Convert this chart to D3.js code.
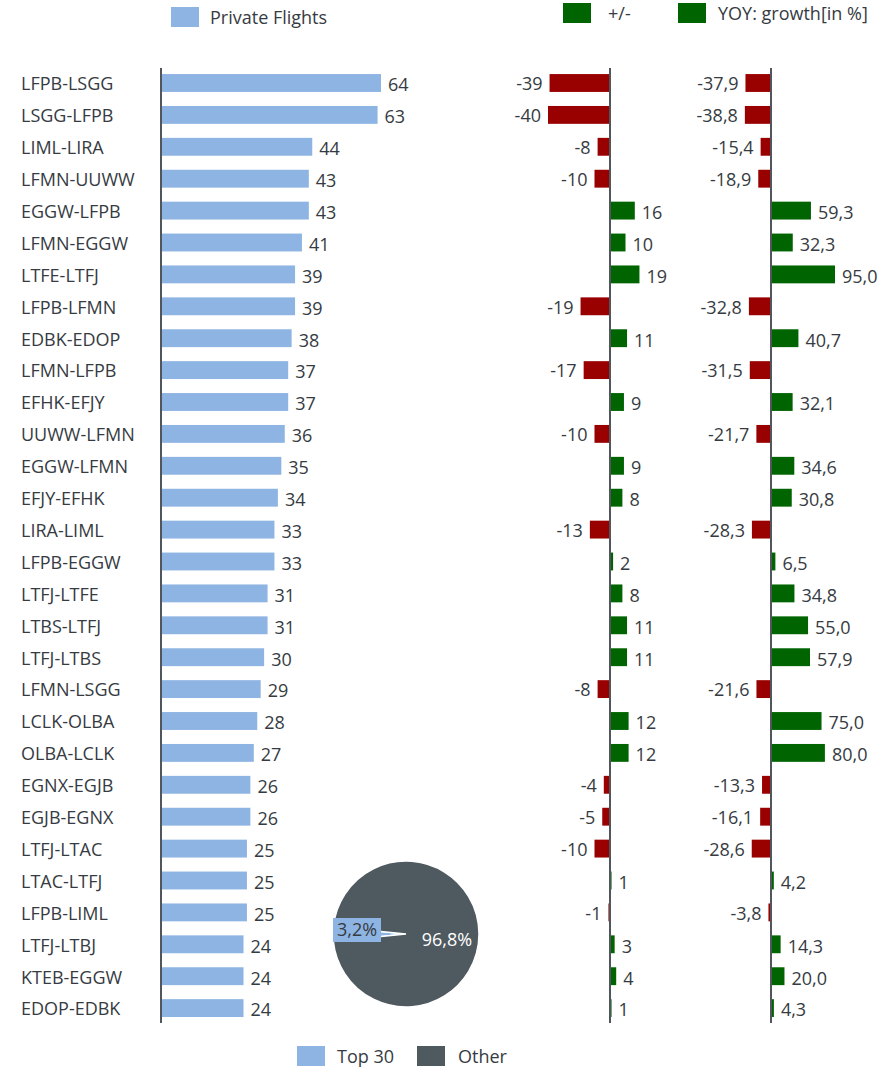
<!DOCTYPE html>
<html>
<head>
<meta charset="utf-8">
<script src="https://cdn.jsdelivr.net/npm/d3@7"></script>
<style>
  body{margin:0;background:#fff;}
  svg text{font-family:"Open Sans",sans-serif;fill:#363b42;}
</style>
</head>
<body>
<svg id="chart" width="893" height="1069"></svg>
<script>
// ── data ──
const routes=["LFPB-LSGG","LSGG-LFPB","LIML-LIRA","LFMN-UUWW","EGGW-LFPB","LFMN-EGGW","LTFE-LTFJ","LFPB-LFMN","EDBK-EDOP","LFMN-LFPB",
  "EFHK-EFJY","UUWW-LFMN","EGGW-LFMN","EFJY-EFHK","LIRA-LIML","LFPB-EGGW","LTFJ-LTFE","LTBS-LTFJ","LTFJ-LTBS","LFMN-LSGG",
  "LCLK-OLBA","OLBA-LCLK","EGNX-EGJB","EGJB-EGNX","LTFJ-LTAC","LTAC-LTFJ","LFPB-LIML","LTFJ-LTBJ","KTEB-EGGW","EDOP-EDBK"];
const flights=[64,63,44,43,43,41,39,39,38,37,37,36,35,34,33,33,31,31,30,29,28,27,26,26,25,25,25,24,24,24];
const diff=[-39,-40,-8,-10,16,10,19,-19,11,-17,9,-10,9,8,-13,2,8,11,11,-8,12,12,-4,-5,-10,1,-1,3,4,1];
const yoy=[-37.9,-38.8,-15.4,-18.9,59.3,32.3,95.0,-32.8,40.7,-31.5,32.1,-21.7,34.6,30.8,-28.3,6.5,34.8,55.0,57.9,-21.6,
  75.0,80.0,-13.3,-16.1,-28.6,4.2,-3.8,14.3,20.0,4.3];
const shareLabels=["Top 30","Other"];
const shareVals=[3.2,96.8];

const BLUE="#8db4e2",GREEN="#006400",RED="#990000",PIE_DARK="#4f5960",AXIS="#50565c";
const FS=18;
const fmt=v=>v.toFixed(1).replace(".",",");

const svg=d3.select("#chart");
const y=d3.scaleBand().domain(routes).range([67.05,1024.05]).paddingInner(0.44).paddingOuter(0.22);
const bw=y.bandwidth();

// ── main bars ──
const x0=d3.scaleLinear().domain([0,64]).range([161,381]);
svg.append("g").selectAll("text").data(routes).join("text")
  .attr("x",21).attr("y",d=>y(d)+bw/2+1).attr("dy","0.35em").attr("font-size",FS).text(d=>d);
const gMain=svg.append("g");
gMain.selectAll("rect").data(flights).join("rect")
  .attr("x",x0(0)).attr("y",(d,i)=>y(routes[i])).attr("width",d=>x0(d)-x0(0)).attr("height",bw).attr("fill",BLUE);
gMain.selectAll("text").data(flights).join("text")
  .attr("x",d=>x0(d)+7).attr("y",(d,i)=>y(routes[i])+bw/2+2).attr("dy","0.35em").attr("font-size",FS).text(d=>d);
svg.append("line").attr("x1",x0(0)).attr("x2",x0(0)).attr("y1",68).attr("y2",1023).attr("stroke",AXIS).attr("stroke-width",2);

// ── diverging columns: +/- and YOY ──
function diverging(vals,scale,label){
  const g=svg.append("g");
  g.selectAll("rect").data(vals).join("rect")
    .attr("x",d=>scale(Math.min(0,d))).attr("y",(d,i)=>y(routes[i]))
    .attr("width",d=>Math.abs(scale(d)-scale(0))).attr("height",bw)
    .attr("fill",d=>d<0?RED:GREEN);
  g.selectAll("text").data(vals).join("text")
    .attr("x",d=>d<0?scale(d)-7:scale(d)+7).attr("text-anchor",d=>d<0?"end":"start")
    .attr("y",(d,i)=>y(routes[i])+bw/2+(d<0?1:2)).attr("dy","0.35em").attr("font-size",FS).text(label);
  g.append("line").attr("x1",scale(0)).attr("x2",scale(0)).attr("y1",68).attr("y2",1023).attr("stroke",AXIS).attr("stroke-width",2);
}
diverging(diff,d3.scaleLinear().domain([0,40]).range([610,672]),d=>d);
diverging(yoy,d3.scaleLinear().domain([0,95]).range([771,835]),fmt);

// ── pie: share of top 30 ──
const pie=d3.pie().sort(null).startAngle(264.2*Math.PI/180).endAngle((264.2+360)*Math.PI/180);
const arcs=pie(shareVals);
const arc=d3.arc().innerRadius(0).outerRadius(73);
const gPie=svg.append("g").attr("transform","translate(406,934)");
gPie.selectAll("path").data(arcs).join("path").attr("d",arc)
  .attr("fill",(d,i)=>i===0?BLUE:PIE_DARK).attr("stroke","#fff").attr("stroke-width",1.5);
gPie.append("rect").attr("x",-73).attr("y",-16).attr("width",48).attr("height",24).attr("fill",BLUE);
gPie.append("text").attr("x",-49).attr("y",-4).attr("dy","0.35em").attr("text-anchor","middle").attr("font-size",FS)
  .text(fmt(shareVals[0])+"%");
gPie.append("text").attr("x",41).attr("y",6).attr("dy","0.35em").attr("text-anchor","middle").attr("font-size",FS)
  .style("fill","#fff").text(fmt(shareVals[1])+"%");

// ── legends ──
function legend(items){
  items.forEach(it=>{
    svg.append("rect").attr("x",it.x).attr("y",it.y).attr("width",28).attr("height",20).attr("fill",it.c);
    svg.append("text").attr("x",it.tx).attr("y",it.y+11).attr("dy","0.35em").attr("font-size",FS).text(it.t);
  });
}
legend([
  {x:171,y:7,c:BLUE,tx:210,t:"Private Flights"},
  {x:563,y:3,c:GREEN,tx:608,t:"+/-"},
  {x:678,y:3,c:GREEN,tx:718,t:"YOY: growth[in %]"},
  {x:297,y:1046,c:BLUE,tx:337,t:shareLabels[0]},
  {x:417,y:1046,c:PIE_DARK,tx:458,t:shareLabels[1]}
]);
</script>
</body>
</html>
